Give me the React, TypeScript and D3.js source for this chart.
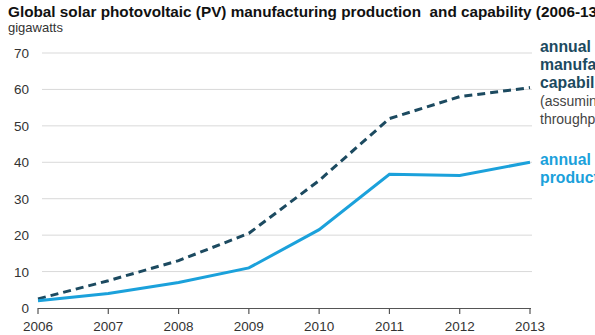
import React from "react";
import * as d3 from "d3";

const years = [2006, 2007, 2008, 2009, 2010, 2011, 2012, 2013];
const capability = [2.5, 7.5, 13, 20.5, 35, 52, 58, 60.5];
const production = [2, 4, 7, 11, 21.5, 36.7, 36.4, 40];
const yTicks = [0, 10, 20, 30, 40, 50, 60, 70];

export default function App() {
  const W = 595, H = 335;
  const x = d3.scaleLinear().domain([2006, 2013]).range([38, 530]);
  const y = d3.scaleLinear().domain([0, 70]).range([308, 53]);
  const line = d3.line<number>().x((_, i) => x(years[i])).y(d => y(d));
  const font = "'Liberation Sans', Arial, sans-serif";
  const dark = "#1c4a60";
  const blue = "#1ba1db";
  return (
    <svg width={W} height={H} style={{ position: "absolute", left: 0, top: 0, fontFamily: font }}>
      <rect width={W} height={H} fill="#fff" />
      <text x={8} y={17} fontSize={15.3} fontWeight="bold" fill="#111" style={{ whiteSpace: "pre" }}>Global solar photovoltaic (PV) manufacturing production  and capability (2006-13)</text>
      <text x={8} y={32} fontSize={13} fill="#333">gigawatts</text>
      {yTicks.filter(t => t > 0).map(t => (
        <line key={t} x1={42} x2={532} y1={y(t)} y2={y(t)} stroke="#d9d9d9" strokeWidth={1} />
      ))}
      {yTicks.map(t => (
        <text key={t} x={29} y={y(t) + 5} fontSize={13.5} fill="#333" textAnchor="end">{t}</text>
      ))}
      <line x1={38} x2={531} y1={308.5} y2={308.5} stroke="#555" strokeWidth={1.2} />
      {years.map(yr => (
        <g key={yr}>
          <line x1={x(yr)} x2={x(yr)} y1={308} y2={314} stroke="#555" strokeWidth={1.2} />
          <text x={x(yr)} y={331} fontSize={13.5} fill="#333" textAnchor="middle">{yr}</text>
        </g>
      ))}
      <path d={line(capability) || ""} fill="none" stroke={dark} strokeWidth={3} strokeDasharray="8,5" />
      <path d={line(production) || ""} fill="none" stroke={blue} strokeWidth={3} />
      <g fontSize={15.8}>
        <text x={540} y={52} fontWeight="bold" fill={dark}>annual</text>
        <text x={540} y={70} fontWeight="bold" fill={dark}>manufacturing</text>
        <text x={540} y={88} fontWeight="bold" fill={dark}>capability</text>
        <text x={540} y={106} fontSize={14} fill="#444">(assuming</text>
        <text x={540} y={124} fontSize={14} fill="#444">throughput)</text>
        <text x={540} y={165} fontWeight="bold" fill={blue}>annual</text>
        <text x={540} y={183} fontWeight="bold" fill={blue}>production</text>
      </g>
    </svg>
  );
}
